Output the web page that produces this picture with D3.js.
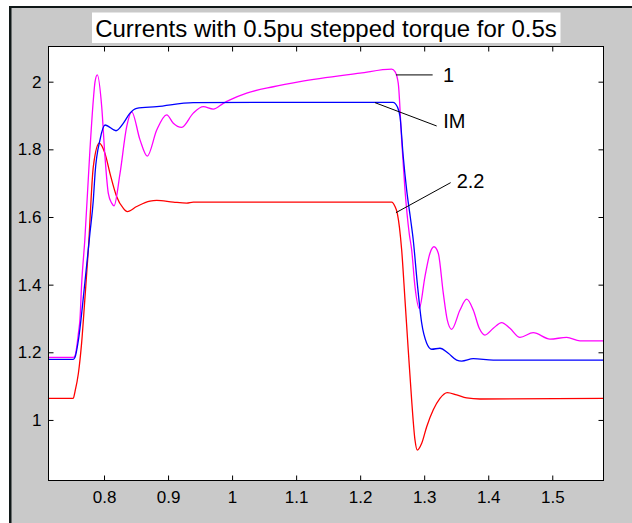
<!DOCTYPE html>
<html><head><meta charset="utf-8">
<script src="https://cdn.jsdelivr.net/npm/d3@7"></script>
<style>html,body{margin:0;padding:0;background:#fff;}svg{display:block;}</style>
</head><body>
<script>
// ---- data ----
const titleText = "Currents with 0.5pu stepped torque for 0.5s";
const xTicks = [0.8, 0.9, 1, 1.1, 1.2, 1.3, 1.4, 1.5];
const yTicks = [1, 1.2, 1.4, 1.6, 1.8, 2];
const xDomain = [0.7133, 1.58];
const yDomain = [0.821, 2.104];

const t1 = [0.7133,0.752,0.7547,0.760,0.7625,0.765,0.770,0.778,0.7833,0.786,0.7895,0.7964,0.8015,0.8067,0.812,0.8156,0.825,0.8354,0.8432,0.8562,0.8676,0.8823,0.8979,0.9082,0.9213,0.9394,0.955,0.9706,0.9863,0.9967,1.0228,1.0643,1.106,1.1997,1.2492,1.2544,1.2595,1.2648,1.27,1.2767,1.2804,1.2856,1.2923,1.3012,1.309,1.3153,1.322,1.3298,1.336,1.3429,1.3559,1.3663,1.3766,1.386,1.3949,1.4079,1.421,1.4339,1.4496,1.4703,1.4964,1.5225,1.5433,1.58];
const i1 = [1.185,1.185,1.19,1.256,1.30,1.40,1.532,1.798,1.946,2.0,2.02,1.926,1.778,1.670,1.641,1.633,1.729,1.867,1.911,1.828,1.780,1.857,1.902,1.877,1.865,1.907,1.926,1.919,1.936,1.946,1.966,1.985,2.0,2.025,2.037,2.030,1.995,1.828,1.680,1.55,1.503,1.394,1.330,1.424,1.493,1.512,1.493,1.375,1.296,1.268,1.325,1.357,1.325,1.271,1.251,1.271,1.288,1.271,1.244,1.258,1.239,1.244,1.234,1.234];

const tIM = [0.7133,0.752,0.7547,0.760,0.770,0.778,0.7833,0.786,0.7937,0.8015,0.8187,0.830,0.8406,0.851,0.8823,0.9394,1.106,1.2513,1.258,1.2622,1.2673,1.2726,1.2789,1.2829,1.2892,1.2961,1.3039,1.3117,1.3246,1.3376,1.3507,1.3585,1.3766,1.4079,1.58];
const iIM = [1.179,1.179,1.185,1.236,1.404,1.552,1.65,1.729,1.828,1.872,1.855,1.877,1.907,1.921,1.926,1.938,1.939,1.939,1.926,1.897,1.778,1.680,1.591,1.532,1.404,1.286,1.227,1.209,1.212,1.197,1.177,1.174,1.181,1.177,1.177];

const t22 = [0.7133,0.752,0.7547,0.760,0.765,0.770,0.7755,0.7833,0.7926,0.8015,0.8093,0.8198,0.830,0.8364,0.851,0.8718,0.8823,0.9082,0.9291,0.9394,1.2492,1.2544,1.258,1.2648,1.27,1.2751,1.2804,1.2856,1.2892,1.2961,1.3039,1.3142,1.3246,1.336,1.3507,1.3663,1.3871,1.58];
const i22 = [1.064,1.064,1.084,1.138,1.227,1.355,1.503,1.749,1.818,1.788,1.729,1.660,1.626,1.616,1.631,1.647,1.649,1.644,1.641,1.644,1.644,1.631,1.611,1.503,1.355,1.207,1.059,0.941,0.911,0.931,0.980,1.030,1.064,1.081,1.074,1.065,1.062,1.064];

const seriesNames = ["1", "IM", "2.2"];
const seriesColors = ["#ff00ff", "#0000ff", "#ff0000"];

// annotation: label, line from (t,i) to (t,i), text anchor (t,i)
const annLabels = ["1", "IM", "2.2"];
const annFrom = [[1.2559, 2.020], [1.2231, 1.938], [1.2559, 1.6128]];
const annTo   = [[1.3132, 2.020], [1.3195, 1.869], [1.3413, 1.7015]];
const annText = [[1.3293, 2.0], [1.3297, 1.862], [1.3507, 1.685]];

// ---- drawing ----
const W = 632, H = 523;
const m = {l: 48.5, r: 603.5, t: 46.5, b: 480.5};
const svg = d3.select("body").append("svg").attr("width", W).attr("height", H);

// figure background and frame
svg.append("rect").attr("x", 0).attr("y", 0).attr("width", W).attr("height", H).attr("fill", "#ffffff");
svg.append("rect").attr("x", 11).attr("y", 8).attr("width", W - 11).attr("height", H - 8).attr("fill", "#c9c9c9");
svg.append("rect").attr("x", 9).attr("y", 6).attr("width", 2.5).attr("height", H - 6).attr("fill", "#101818");
svg.append("rect").attr("x", 9).attr("y", 6).attr("width", W - 9).attr("height", 2).attr("fill", "#101818");

const x = d3.scaleLinear().domain(xDomain).range([m.l, m.r]);
const y = d3.scaleLinear().domain(yDomain).range([m.b, m.t]);

// plot area
svg.append("rect").attr("x", m.l).attr("y", m.t).attr("width", m.r - m.l).attr("height", m.b - m.t).attr("fill", "#fff");

const font = "Liberation Sans, Arial, sans-serif";

// title box
const titleG = svg.append("g");
titleG.append("rect").attr("x", 92).attr("y", 12.5).attr("width", 468.5).attr("height", 30.5).attr("fill", "#fff");
titleG.append("text").attr("x", (m.l + m.r) / 2).attr("y", 36.5).attr("text-anchor", "middle")
  .attr("font-family", font).attr("font-size", 24).attr("fill", "#000").text(titleText);

const tickLen = 5;

// axes via d3 axes (inward ticks)
const axB = d3.axisBottom(x).tickValues(xTicks).tickSize(-tickLen).tickPadding(10.5).tickFormat(d3.format("~g"));
const axT = d3.axisTop(x).tickValues(xTicks).tickSize(-tickLen).tickFormat("");
const axL = d3.axisLeft(y).tickValues(yTicks).tickSize(-tickLen).tickPadding(7).tickFormat(d3.format("~g"));
const axR = d3.axisRight(y).tickValues(yTicks).tickSize(-tickLen).tickFormat("");

function style(g) {
  g.select(".domain").remove();
  g.selectAll(".tick line").attr("stroke", "#000").attr("stroke-width", 1);
  g.selectAll(".tick text").attr("font-family", font).attr("font-size", 17).attr("fill", "#000");
}
svg.append("g").attr("transform", `translate(0,${m.b})`).call(axB).call(style);
svg.append("g").attr("transform", `translate(0,${m.t})`).call(axT).call(style);
svg.append("g").attr("transform", `translate(${m.l},0)`).call(axL).call(style);
svg.append("g").attr("transform", `translate(${m.r},0)`).call(axR).call(style);

// series
const series = [
  t1.map((t, k) => [t, i1[k]]),
  tIM.map((t, k) => [t, iIM[k]]),
  t22.map((t, k) => [t, i22[k]])
];
const line = d3.line().x(d => x(d[0])).y(d => y(d[1])).curve(d3.curveMonotoneX);
svg.append("clipPath").attr("id", "c").append("rect")
  .attr("x", m.l).attr("y", m.t).attr("width", m.r - m.l).attr("height", m.b - m.t);
const lg = svg.append("g").attr("clip-path", "url(#c)");
[2, 0, 1].forEach(k => {
  lg.append("path").datum(series[k]).attr("d", line).attr("fill", "none")
    .attr("stroke", seriesColors[k]).attr("stroke-width", 1.3).attr("stroke-linejoin", "round")
    .attr("data-name", seriesNames[k]);
});

// annotations
annLabels.forEach((lab, k) => {
  svg.append("line").attr("x1", x(annFrom[k][0])).attr("y1", y(annFrom[k][1]))
    .attr("x2", x(annTo[k][0])).attr("y2", y(annTo[k][1])).attr("stroke", "#000").attr("stroke-width", 1);
  svg.append("text").attr("x", x(annText[k][0])).attr("y", y(annText[k][1]))
    .attr("font-family", font).attr("font-size", 20).attr("fill", "#000").text(lab);
});

// plot box border
svg.append("rect").attr("x", m.l).attr("y", m.t).attr("width", m.r - m.l).attr("height", m.b - m.t)
  .attr("fill", "none").attr("stroke", "#000").attr("stroke-width", 1);
</script>
</body></html>
